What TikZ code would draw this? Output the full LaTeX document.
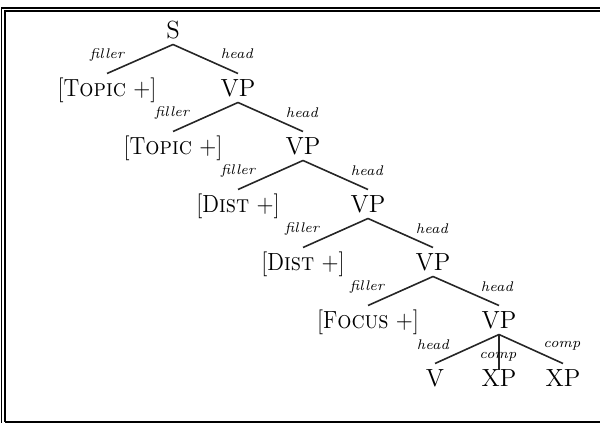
\documentclass[tikz,border=0pt]{standalone}
\usepackage{graphicx}
\newcommand{\feat}[2]{\scalebox{0.9}[1]{[#1\textsc{#2} +]}}
\begin{document}
\begin{tikzpicture}[x=0.5pt,y=-0.5pt,
  cat/.style={inner sep=0pt,font=\fontsize{12.4}{14}\selectfont,text height=8.5pt,text depth=0pt,outer sep=3pt},
  lab/.style={inner sep=0pt,font=\fontsize{7}{8}\selectfont\itshape},
  branch/.style={line width=0.8pt,black!85},
  frame/.style={line width=0.9pt}]
\useasboundingbox (0,0) rectangle (600,423);
% double frame on top and left, single rule at the bottom
\draw[frame] (1.6,423) -- (1.6,7.6) -- (600,7.6);
\draw[frame] (4.9,421.6) -- (4.9,10.8) -- (600,10.8);
\draw[frame] (4.9,421.6) -- (600,421.6);

% categories
\node[cat] (s)  at (173,30)  {S};
\node[cat] (f1) at (107,88)  {\feat{T}{opic}};
\node[cat] (v1) at (238,88)  {VP};
\node[cat] (f2) at (173,146) {\feat{T}{opic}};
\node[cat] (v2) at (303,146) {VP};
\node[cat] (f3) at (238,204) {\feat{D}{ist}};
\node[cat] (v3) at (368,204) {VP};
\node[cat] (f4) at (303,262) {\feat{D}{ist}};
\node[cat] (v4) at (433,262) {VP};
\node[cat] (f5) at (368,320) {\feat{F}{ocus}};
\node[cat] (v5) at (499,320) {VP};
\node[cat] (v)  at (435,378) {V};
\node[cat] (x1) at (499,378) {XP};
\node[cat] (x2) at (563,378) {XP};

% branches
\draw[branch] (s.south) -- (f1.north);
\draw[branch] (s.south) -- (v1.north);
\draw[branch] (v1.south) -- (f2.north);
\draw[branch] (v1.south) -- (v2.north);
\draw[branch] (v2.south) -- (f3.north);
\draw[branch] (v2.south) -- (v3.north);
\draw[branch] (v3.south) -- (f4.north);
\draw[branch] (v3.south) -- (v4.north);
\draw[branch] (v4.south) -- (f5.north);
\draw[branch] (v4.south) -- (v5.north);
\draw[branch] (v5.south) -- (v.north);
\draw[branch] (v5.south) -- ([yshift=-3pt]x1.north);
\draw[branch] (v5.south) -- (x2.north);

% branch labels
\node[lab] at (107,55)  {filler};
\node[lab] at (237,54)  {head};
\node[lab] at (172,113) {filler};
\node[lab] at (302,113) {head};
\node[lab] at (238,171) {filler};
\node[lab] at (367,171) {head};
\node[lab] at (302,229) {filler};
\node[lab] at (432,229) {head};
\node[lab] at (367,287) {filler};
\node[lab] at (497,287) {head};
\node[lab] at (433,345) {head};
\node[lab] at (498,357) {comp};
\node[lab] at (562,346) {comp};
\end{tikzpicture}
\end{document}
